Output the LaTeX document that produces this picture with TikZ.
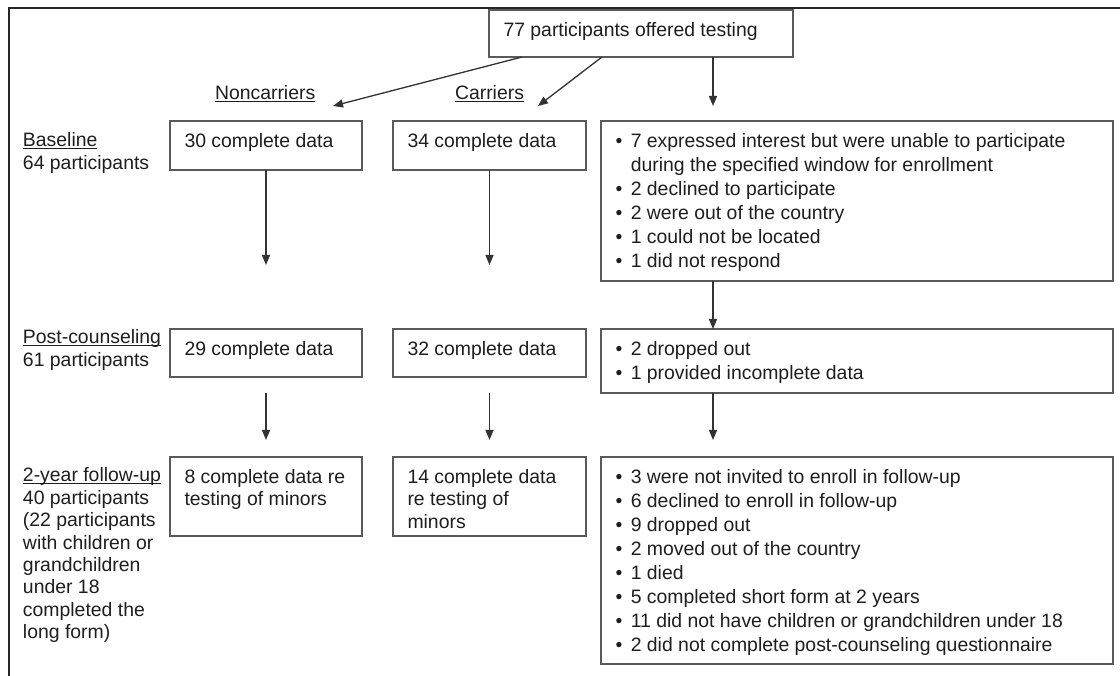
\documentclass[tikz,border=0pt]{standalone}
\usepackage{fontspec}
\setmainfont{Liberation Sans}
\usetikzlibrary{arrows.meta}
\definecolor{txtcol}{HTML}{1E1E1E}
\definecolor{framecol}{HTML}{5A5A5A}
\definecolor{arrcol}{HTML}{333333}
\newcommand{\uln}[1]{\leavevmode\setbox0\hbox{#1}\rlap{\color{txtcol}\rule[-2.2pt]{\wd0}{1pt}}\box0}
\newcommand{\boxtext}[3]{\parbox[c][#2][t]{#1}{\raggedright\leftskip=14.5pt\rule{0pt}{26.5pt}#3}}
\newcommand{\bl}{\textbullet\hspace{8.5pt}}
\newcommand{\cont}{\hphantom{\textbullet}\hspace{8.5pt}}
\newcommand{\listfont}{\fontsize{19.4pt}{24pt}\selectfont}
\tikzset{
  boxst/.style={draw=framecol, line width=1.3pt, inner sep=0pt, outer sep=0pt, anchor=north west, text=txtcol, font=\fontsize{19.4pt}{22.4pt}\selectfont},
  lab/.style={inner sep=0pt, outer sep=0pt, anchor=base west, text=txtcol, font=\fontsize{19.4pt}{22.4pt}\selectfont},
  flow/.style={draw=arrcol, line width=1.3pt, -{Triangle[length=10pt,width=8pt]}}
}
\begin{document}
\begin{tikzpicture}[x=1pt,y=-1pt]
\useasboundingbox (0,0) rectangle (1120,676);
\fill[white] (0,0) rectangle (1120,676);
% outer frame lines (top and left)
\draw[line width=1.8pt, draw=black!85] (9,676) -- (9,8) -- (1120,8);

% top box
\node[boxst] (t) at (489,10) {\boxtext{304pt}{47pt}{77 participants offered testing}};

% column headings
\node[lab] (hnc) at (215,99.5) {\uln{Noncarriers}};
\node[lab] (hc) at (455,99.5) {\uln{Carriers}};

% row labels
\node[lab] (lb1) at (23,147) {\parbox[t]{145pt}{\uln{Baseline}\\64 participants}};
\node[lab] (lb2) at (23,344) {\parbox[t]{145pt}{\uln{Post-counseling}\\61 participants}};
\node[lab] (lb3) at (23,482) {\parbox[t]{145pt}{\uln{2-year follow-up}\\40 participants\\(22 participants\\with children or\\grandchildren\\under 18\\completed the\\long form)}};

% row 1
\node[boxst] (nc1) at (170,121) {\boxtext{192pt}{49pt}{30 complete data}};
\node[boxst] (c1) at (393,121) {\boxtext{193pt}{49pt}{34 complete data}};
\node[boxst] (r1) at (601,121) {\boxtext{512pt}{160pt}{\listfont
\bl 7 expressed interest but were unable to participate\\
\cont during the specified window for enrollment\\
\bl 2 declined to participate\\
\bl 2 were out of the country\\
\bl 1 could not be located\\
\bl 1 did not respond}};

% row 2
\node[boxst] (nc2) at (170,329) {\boxtext{192pt}{48pt}{29 complete data}};
\node[boxst] (c2) at (393,329) {\boxtext{193pt}{48pt}{32 complete data}};
\node[boxst] (r2) at (601,329) {\boxtext{512pt}{64pt}{\listfont
\bl 2 dropped out\\
\bl 1 provided incomplete data}};

% row 3
\node[boxst] (nc3) at (170,457) {\boxtext{192pt}{79pt}{8 complete data re\\testing of minors}};
\node[boxst] (c3) at (393,457) {\boxtext{193pt}{79pt}{14 complete data\\re testing of\\minors}};
\node[boxst] (r3) at (601,457) {\boxtext{512pt}{207pt}{\listfont
\bl 3 were not invited to enroll in follow-up\\
\bl 6 declined to enroll in follow-up\\
\bl 9 dropped out\\
\bl 2 moved out of the country\\
\bl 1 died\\
\bl 5 completed short form at 2 years\\
\bl 11 did not have children or grandchildren under 18\\
\bl 2 did not complete post-counseling questionnaire}};

% free arrow ends
\coordinate (aNc) at (333,106);
\coordinate (aC) at (538,106);
\coordinate (aR) at (713,106);
\coordinate (e1) at (266,265);
\coordinate (e2) at (489.5,265);
\coordinate (s3) at (266,393);
\coordinate (e3) at (266,440);
\coordinate (s4) at (489.5,393);
\coordinate (e4) at (489.5,440);
\coordinate (e5) at (713,440);

% connectors
\draw[flow] ([xshift=33pt]t.south west) -- (aNc);
\draw[flow] ([xshift=113pt]t.south west) -- (aC);
\draw[flow] ([xshift=224pt]t.south west) -- (aR);
\draw[flow] (nc1.south) -- (e1);
\draw[flow] (c1.south) -- (e2);
\draw[flow] ([xshift=112pt]r1.south west) -- ([xshift=112pt]r2.north west);
\draw[flow] (s3) -- (e3);
\draw[flow] (s4) -- (e4);
\draw[flow] ([xshift=112pt]r2.south west) -- (e5);
\end{tikzpicture}
\end{document}
